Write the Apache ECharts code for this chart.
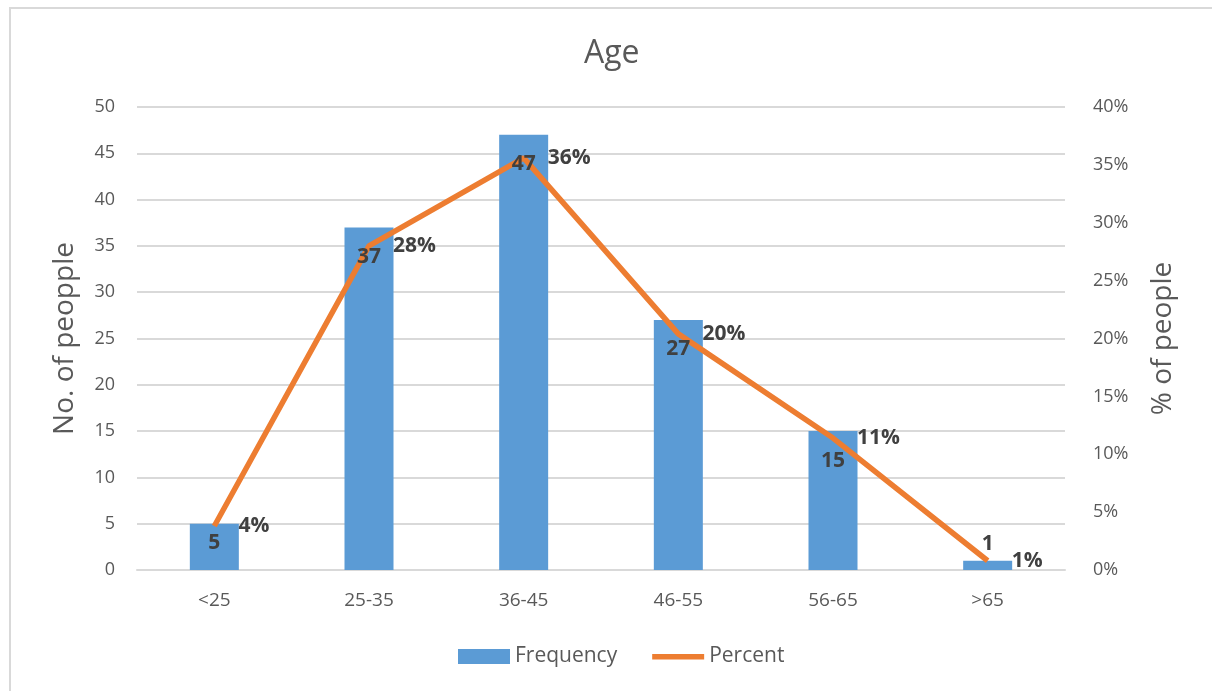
<!DOCTYPE html>
<html>
<head>
<meta charset="utf-8">
<script src="https://cdn.jsdelivr.net/npm/echarts@6/dist/echarts.min.js"></script>
<style>
html,body{margin:0;padding:0;background:#fff;}
#c{width:1212px;height:691px;}
</style>
</head>
<body>
<div id="c"></div>
<script>
const categories = ['<25', '25-35', '36-45', '46-55', '56-65', '>65'];
const frequency = [5, 37, 47, 27, 15, 1];
const percent = [3.8, 28.0, 35.6, 20.4, 11.4, 0.8];

const chart = echarts.init(document.getElementById('c'));
const gray = '#595959';
const dark = '#404040';
const font = '"Open Sans", "Noto Sans", sans-serif';

const lastIdx = frequency.length - 1;
const labelData = frequency.map((v, i) => {
  if (i === lastIdx) return { value: v, label: { position: 'top', distance: 6 } };
  if (i === 0) return { value: v, label: { distance: 9 } };
  return v;
});

chart.setOption({
  animation: false,
  textStyle: { fontFamily: font },
  title: {
    text: 'Age', left: 579, top: 33,
    textStyle: { fontSize: 32, fontWeight: 'normal', color: gray, fontFamily: font }
  },
  graphic: [{
    type: 'rect', shape: { x: 10, y: 8, width: 1230, height: 700 },
    style: { fill: 'none', stroke: '#d9d9d9', lineWidth: 2 }, silent: true
  }],
  legend: {
    bottom: 19, left: 453, itemGap: 35, itemWidth: 52, itemHeight: 15,
    textStyle: { fontSize: 21, color: gray, fontFamily: font },
    data: [
      { name: 'Frequency', icon: 'rect' },
      { name: 'Percent', icon: 'path://M0,0h52v0.01h-52zM0,5h52v5.5h-52zM0,15h52v0.01h-52z' }
    ]
  },
  grid: { left: 137, right: 147, top: 107, bottom: 121 },
  xAxis: {
    type: 'category', data: categories,
    axisLine: { lineStyle: { color: '#d9d9d9', width: 2 } },
    axisTick: { show: false },
    axisLabel: { fontSize: 19, color: gray, margin: 21, fontFamily: font }
  },
  yAxis: [{
    type: 'value', min: 0, max: 50, interval: 5,
    name: 'No. of peopple', nameLocation: 'middle', nameGap: 58, nameRotate: 90,
    nameTextStyle: { fontSize: 28, color: gray, fontFamily: font },
    axisLabel: { fontSize: 18, color: gray, margin: 22, fontFamily: font },
    splitLine: { lineStyle: { color: '#d9d9d9', width: 2 } },
    axisLine: { show: false }, axisTick: { show: false }
  }, {
    type: 'value', min: 0, max: 40, interval: 5, position: 'right',
    name: '% of people', nameLocation: 'middle', nameGap: 84, nameRotate: 90,
    nameTextStyle: { fontSize: 28, color: gray, fontFamily: font },
    axisLabel: { fontSize: 18, color: gray, margin: 28, formatter: '{value}%', fontFamily: font },
    splitLine: { show: false },
    axisLine: { show: false }, axisTick: { show: false }
  }],
  series: [{
    name: 'Frequency', type: 'bar', data: frequency, barWidth: 49,
    itemStyle: { color: '#5B9BD5' }, z: 2
  }, {
    name: 'Percent', type: 'line', yAxisIndex: 1, data: percent,
    symbol: 'circle', symbolSize: 0.1, showSymbol: true,
    lineStyle: { color: '#ED7D31', width: 5.5 },
    itemStyle: { color: '#ED7D31' },
    label: {
      show: true, position: 'right', distance: 24,
      fontSize: 21, fontWeight: 'bold', color: dark, fontFamily: font,
      formatter: p => Math.round(p.value) + '%'
    },
    z: 5
  }, {
    name: 'FrequencyLabels', type: 'bar', data: labelData, barWidth: 49, barGap: '-100%',
    itemStyle: { color: 'rgba(0,0,0,0)' }, silent: true, z: 10,
    label: {
      show: true, position: 'insideTop', distance: 19,
      fontSize: 21, fontWeight: 'bold', color: dark, fontFamily: font
    }
  }]
});
</script>
</body>
</html>
